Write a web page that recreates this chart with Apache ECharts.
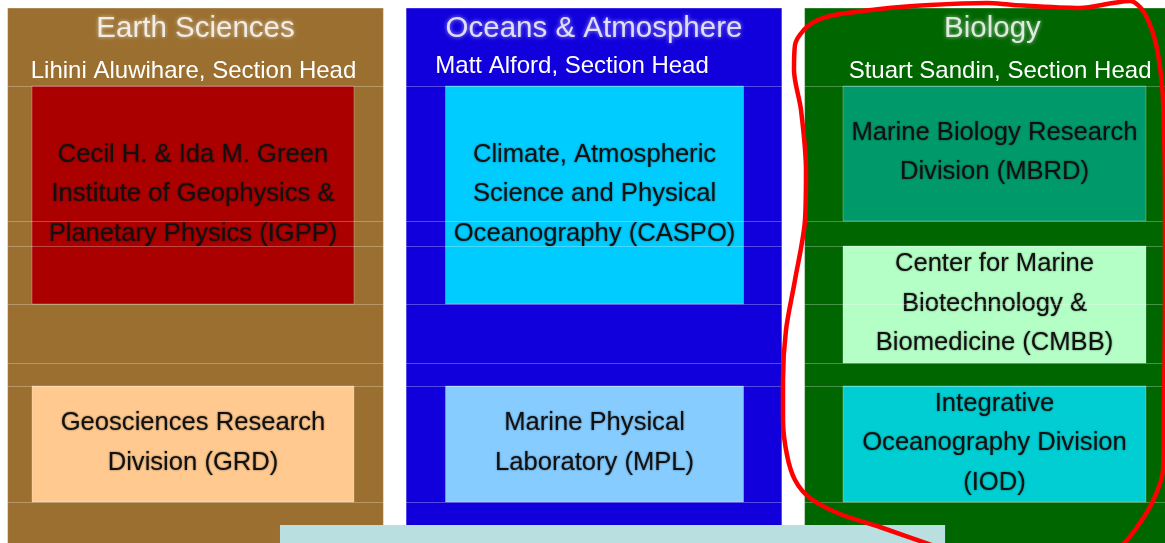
<!DOCTYPE html>
<html>
<head>
<meta charset="utf-8">
<script src="https://cdn.jsdelivr.net/npm/echarts@6/dist/echarts.min.js"></script>
<style>
html,body{margin:0;padding:0;background:#ffffff;}
#chart{width:1165px;height:543px;}
</style>
</head>
<body>
<div id="chart"></div>
<script>
// ---------- data ----------
const SECTIONS = ['Earth Sciences', 'Oceans & Atmosphere', 'Biology'];
const SECTION_HEADS = ['Lihini Aluwihare, Section Head', 'Matt Alford, Section Head', 'Stuart Sandin, Section Head'];
const UNIT_NAMES = [
  'Cecil H. & Ida M. Green\nInstitute of Geophysics &\nPlanetary Physics (IGPP)',
  'Geosciences Research\nDivision (GRD)',
  'Climate, Atmospheric\nScience and Physical\nOceanography (CASPO)',
  'Marine Physical\nLaboratory (MPL)',
  'Marine Biology Research\nDivision (MBRD)',
  'Center for Marine\nBiotechnology &\nBiomedicine (CMBB)',
  'Integrative\nOceanography Division\n(IOD)'
];
const UNIT_SECTION = [0, 0, 1, 1, 2, 2, 2];
const UNIT_ROW_FROM = [1, 6, 1, 6, 1, 3, 6];
const UNIT_ROW_TO = [4, 7, 4, 7, 2, 5, 7];
// hand-drawn annotation around the Biology section (x: section units, y: layout row units)
const OUTLINE = [
  [1.8682, 548], [1.7177, 527], [1.6173, 514], [1.5420, 498], [1.5044, 480], [1.4843, 455],
  [1.4743, 420], [1.4743, 380], [1.4818, 330], [1.5044, 280], [1.5295, 220], [1.5320, 170],
  [1.5195, 110], [1.5019, 70], [1.5044, 45], [1.5370, 26], [1.5922, 16], [1.7177, 9],
  [1.8432, 5], [1.9862, 3], [2.0514, 5], [2.2196, 8], [2.3024, 3], [2.3450, 1],
  [2.3701, 7], [2.3902, 20], [2.4078, 40], [2.4203, 67], [2.4279, 100], [2.4329, 200],
  [2.4329, 300], [2.4304, 400], [2.4279, 470], [2.4002, 503], [2.3576, 530], [2.3200, 548]
];

// ---------- layout & style ----------
const layout = {
  rowEdges: [8, 86, 221, 246, 304, 363, 386, 502, 560],
  colHalf: 0.4715,
  boxSpan: [[-0.4103, 0.3977], [-0.3726, 0.3752], [-0.3752, 0.3852]],
  titleY: 28.5,
  headY: [71.5, 66.5, 71],
  headDx: [-0.005, -0.055, 0.019],
  footer: [0.212, 1.881, 525, 560],
  textDy: -1
};
const palette = {
  sections: ['#9A6F2F', '#1100DC', '#006600'],
  units: ['#AA0000', '#FFC98F', '#00CCFF', '#86CCFF', '#00996A', '#B4FFC6', '#00CED2'],
  footer: '#BADFE0',
  outline: '#FF0000'
};
const FONT = '"Liberation Sans", Arial, Helvetica, sans-serif';

const chart = echarts.init(document.getElementById('chart'), null, {renderer: 'canvas'});

function rectOf(api, x0, x1, y0, y1) {
  const p0 = api.coord([x0, y0]);
  const p1 = api.coord([x1, y1]);
  return {x: Math.min(p0[0], p1[0]), y: Math.min(p0[1], p1[1]),
          width: Math.abs(p1[0] - p0[0]), height: Math.abs(p1[1] - p0[1])};
}

const option = {
  animation: false,
  backgroundColor: '#ffffff',
  grid: {left: 0, right: 0, top: 0, bottom: 0},
  xAxis: {type: 'value', min: -0.4906, max: 2.4329, show: false},
  yAxis: {type: 'value', min: 0, max: 543, inverse: true, show: false},
  series: [
    {
      type: 'custom', name: 'sections', silent: true, z: 1,
      data: SECTIONS.map((s, i) => [i, 0]),
      renderItem: function (params, api) {
        const i = params.dataIndex;
        const r = rectOf(api, i - layout.colHalf, i + layout.colHalf, layout.rowEdges[0], layout.rowEdges[layout.rowEdges.length - 1]);
        return {type: 'rect', shape: r, style: {fill: palette.sections[i], stroke: 'rgba(255,255,255,0.35)', lineWidth: 1}};
      }
    },
    {
      type: 'custom', name: 'units', silent: true, z: 2,
      data: UNIT_NAMES.map((n, i) => [UNIT_SECTION[i], 0]),
      renderItem: function (params, api) {
        const i = params.dataIndex;
        const s = UNIT_SECTION[i];
        const span = layout.boxSpan[s];
        const y0 = layout.rowEdges[UNIT_ROW_FROM[i]], y1 = layout.rowEdges[UNIT_ROW_TO[i]];
        const r = rectOf(api, s + span[0], s + span[1], y0, y1);
        return {
          type: 'group',
          children: [
            {type: 'rect', shape: r, style: {fill: palette.units[i], stroke: 'rgba(255,255,255,0.25)', lineWidth: 1}},
            {type: 'text', z2: 10, style: {
              text: UNIT_NAMES[i], x: r.x + r.width / 2, y: r.y + r.height / 2 + layout.textDy,
              fill: '#111111', font: '25.6px ' + FONT, align: 'center', verticalAlign: 'middle',
              lineHeight: 39.5, textShadowColor: 'rgba(0,0,0,0.55)', textShadowBlur: 2
            }}
          ]
        };
      }
    },
    {
      type: 'custom', name: 'rules', silent: true, z: 3,
      data: SECTIONS.map((s, i) => [i, 0]),
      renderItem: function (params, api) {
        const i = params.dataIndex;
        const children = [];
        for (let k = 1; k < layout.rowEdges.length - 1; k++) {
          const a = api.coord([i - layout.colHalf, layout.rowEdges[k]]);
          const b = api.coord([i + layout.colHalf, layout.rowEdges[k]]);
          children.push({type: 'line', shape: {x1: a[0], y1: a[1] + 0.5, x2: b[0], y2: b[1] + 0.5},
            style: {stroke: 'rgba(255,255,255,0.28)', lineWidth: 1}});
        }
        const t = api.coord([i, layout.titleY]);
        children.push({type: 'text', style: {
          text: SECTIONS[i], x: t[0], y: t[1], fill: 'rgba(255,255,255,0.82)', font: '29.5px ' + FONT,
          align: 'center', verticalAlign: 'middle', textShadowColor: 'rgba(255,255,255,0.75)', textShadowBlur: 4
        }});
        const h = api.coord([i + layout.headDx[i], layout.headY[i]]);
        children.push({type: 'text', style: {
          text: SECTION_HEADS[i], x: h[0], y: h[1], fill: '#ffffff', font: '24px ' + FONT,
          align: 'center', verticalAlign: 'middle'
        }});
        return {type: 'group', children: children};
      }
    },
    {
      type: 'custom', name: 'footer', silent: true, z: 4,
      data: [[0, 0]],
      renderItem: function (params, api) {
        const f = layout.footer;
        return {type: 'rect', shape: rectOf(api, f[0], f[1], f[2], f[3]), style: {fill: palette.footer}};
      }
    },
    {
      type: 'line', name: 'outline', silent: true, z: 5,
      data: OUTLINE, showSymbol: false, smooth: 0.3,
      lineStyle: {color: palette.outline, width: 4.5, cap: 'round', join: 'round'}
    }
  ]
};
chart.setOption(option);
</script>
</body>
</html>
